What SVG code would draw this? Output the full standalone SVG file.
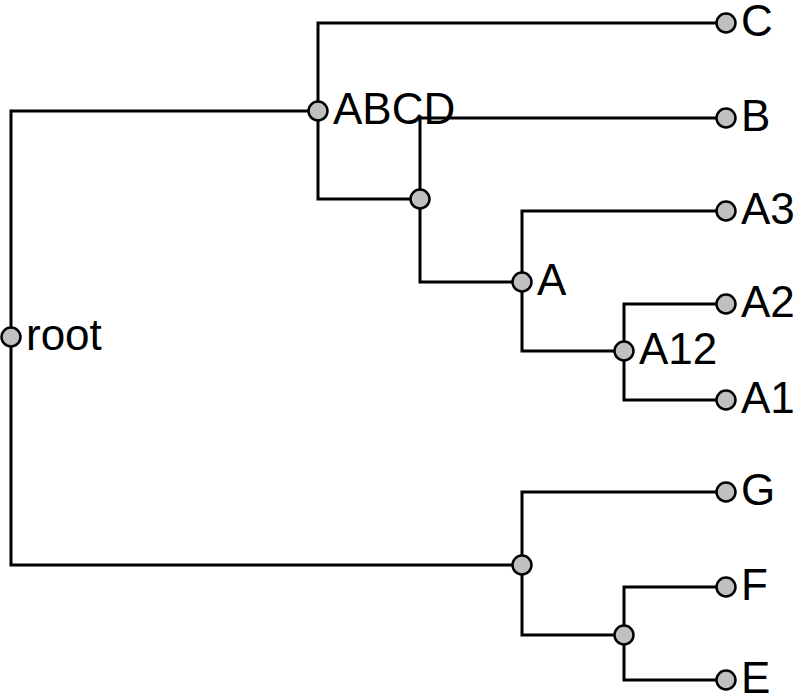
<svg xmlns="http://www.w3.org/2000/svg" width="795" height="694" viewBox="0 0 795 694">
<style>
.e{fill:none;stroke:#000;stroke-width:3}
.n{fill:#c0c0c0;stroke:#000;stroke-width:2.5}
.t{font-family:"Liberation Sans",Arial,sans-serif;font-size:44px;fill:#000}
</style>
<rect width="795" height="694" fill="#fff"/>
<g id="connectors">
<path class="e" d="M318,111H11V565H522"/>
<path class="e" d="M726,23H318V199H420"/>
<path class="e" d="M726,118H420V282H522"/>
<path class="e" d="M726,211H522V351H624"/>
<path class="e" d="M726,304H624V400H726"/>
<path class="e" d="M726,492H522V635H624"/>
<path class="e" d="M726,587H624V680H726"/>
</g>
<g id="root"><circle class="n" cx="11" cy="337" r="9.5"/><text class="t" x="26" y="350">root</text></g>
<g id="ABCD"><circle class="n" cx="318" cy="111" r="9.5"/><text class="t" x="333" y="124">ABCD</text></g>
<g id="BA"><circle class="n" cx="420" cy="199" r="9.5"/></g>
<g id="A"><circle class="n" cx="522" cy="282" r="9.5"/><text class="t" x="537" y="295">A</text></g>
<g id="A12"><circle class="n" cx="624" cy="351" r="9.5"/><text class="t" x="639" y="364">A12</text></g>
<g id="GFE"><circle class="n" cx="522" cy="565" r="9.5"/></g>
<g id="FE"><circle class="n" cx="624" cy="635" r="9.5"/></g>
<g id="C"><circle class="n" cx="726" cy="23" r="9.5"/><text class="t" x="741" y="36">C</text></g>
<g id="B"><circle class="n" cx="726" cy="118" r="9.5"/><text class="t" x="741" y="131">B</text></g>
<g id="A3"><circle class="n" cx="726" cy="211" r="9.5"/><text class="t" x="741" y="224">A3</text></g>
<g id="A2"><circle class="n" cx="726" cy="304" r="9.5"/><text class="t" x="741" y="317">A2</text></g>
<g id="A1"><circle class="n" cx="726" cy="400" r="9.5"/><text class="t" x="741" y="413">A1</text></g>
<g id="G"><circle class="n" cx="726" cy="492" r="9.5"/><text class="t" x="741" y="505">G</text></g>
<g id="F"><circle class="n" cx="726" cy="587" r="9.5"/><text class="t" x="741" y="600">F</text></g>
<g id="E"><circle class="n" cx="726" cy="680" r="9.5"/><text class="t" x="741" y="693">E</text></g>
</svg>
